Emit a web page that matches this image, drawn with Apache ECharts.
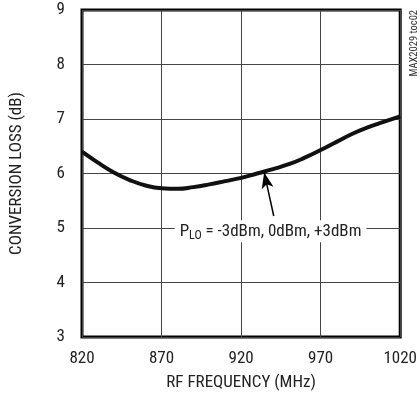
<!DOCTYPE html>
<html><head><meta charset="utf-8">
<script src="https://cdn.jsdelivr.net/npm/echarts@6/dist/echarts.min.js"></script>
<style>html,body{margin:0;padding:0;background:#fff}#c{width:420px;height:398px}</style>
</head><body><div id="c"></div>
<script>
var freqMHz = [820,830,840,850,860,870,880,890,900,910,920,930,940,950,960,970,980,990,1000,1010,1020];
var lossDb  = [6.40,6.20,6.02,5.88,5.78,5.73,5.72,5.75,5.80,5.86,5.92,6.00,6.08,6.17,6.29,6.43,6.58,6.73,6.85,6.95,7.05];
var xTicks = [820,870,920,970,1020];
var yTicks = [3,4,5,6,7,8,9];
var arrowTail = [940.5, 5.22];
var arrowTip = [934.5, 6.02];
var labelAt = [938.5, 4.94];

var FONT = '"Liberation Sans Narrow","Roboto Condensed","Liberation Sans",sans-serif';
var chart = echarts.init(document.getElementById('c'));
chart.setOption({
  animation:false,
  grid:{left:79,right:13,top:10,bottom:61,show:true,borderColor:'#000',borderWidth:3,backgroundColor:'transparent'},
  xAxis:{type:'value',min:xTicks[0],max:xTicks[xTicks.length-1],interval:50,
    name:'RF FREQUENCY (MHz)',nameLocation:'middle',nameGap:37,
    nameTextStyle:{fontFamily:FONT,fontSize:17,color:'#222'},
    axisLine:{show:false},axisTick:{show:false},
    axisLabel:{fontFamily:FONT,fontSize:17,color:'#222',margin:13,formatter:function(v){return String(v);}},
    splitLine:{show:true,lineStyle:{color:'#444',width:1}}},
  yAxis:{type:'value',min:yTicks[0],max:yTicks[yTicks.length-1],interval:1,
    name:'CONVERSION LOSS (dB)',nameLocation:'middle',nameGap:57,
    nameTextStyle:{fontFamily:FONT,fontSize:17,color:'#222'},
    axisLine:{show:false},axisTick:{show:false},
    axisLabel:{fontFamily:FONT,fontSize:17,color:'#222',margin:17},
    splitLine:{show:true,lineStyle:{color:'#444',width:1}}},
  series:[{
    type:'line',smooth:true,showSymbol:false,
    data:freqMHz.map(function(f,i){return [f,lossDb[i]];}),
    lineStyle:{color:'#111',width:4},
    markLine:{silent:true,symbol:['none','arrow'],symbolSize:[9,16],
      lineStyle:{color:'#000',width:1.5,type:'solid'},label:{show:false},
      data:[[{coord:arrowTail},{coord:arrowTip}]]},
    markPoint:{silent:true,symbol:'rect',symbolSize:0,
      data:[{coord:labelAt,
        label:{show:true,position:'inside',backgroundColor:'#fff',padding:[0,5],
          formatter:'{a|P}{s|LO}{a| = -3dBm, 0dBm, +3dBm}',
          rich:{a:{fontFamily:FONT,fontSize:17,color:'#222',lineHeight:22,verticalAlign:'middle'},
                s:{fontFamily:FONT,fontSize:12,color:'#222',lineHeight:22,verticalAlign:'bottom',padding:[6,0,0,0]}}}}]}
  }],
  graphic:[{type:'text',right:0,top:10,rotation:Math.PI/2,
    style:{text:'MAX2029 toc02',fontFamily:FONT,fontSize:10.5,fill:'#333'}}]
});
</script></body></html>
